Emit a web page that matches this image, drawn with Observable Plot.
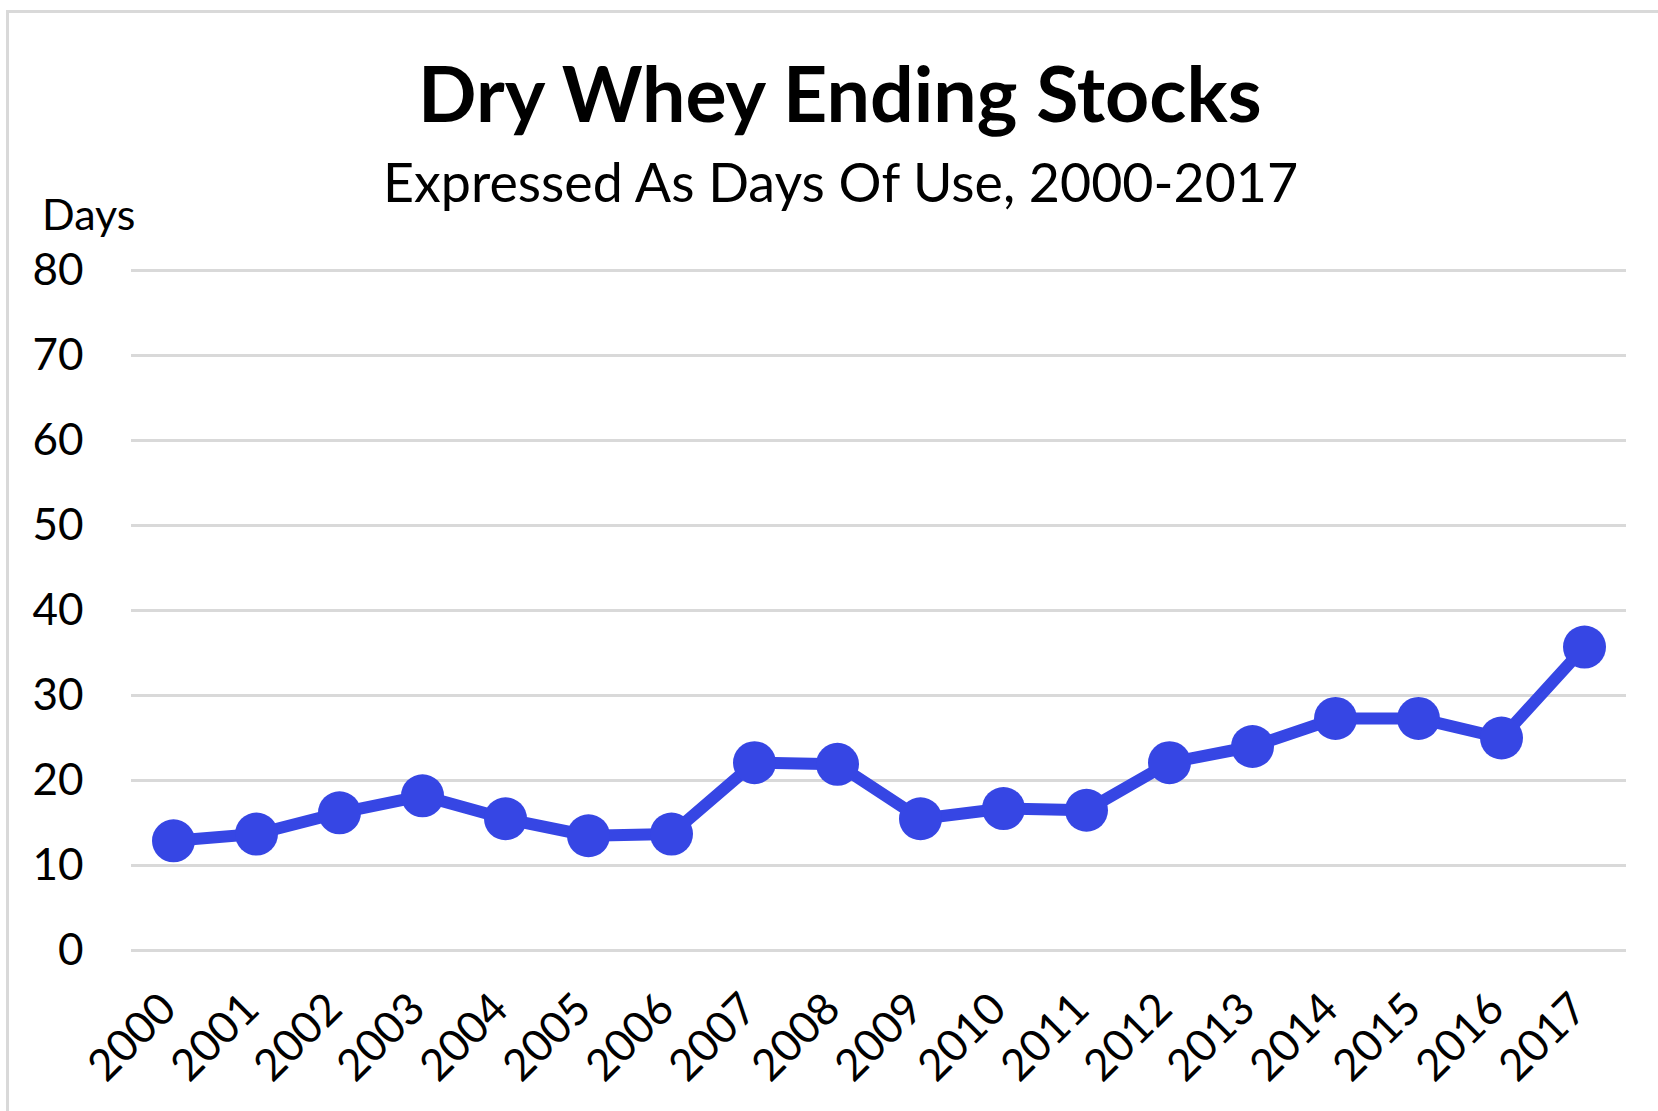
<!DOCTYPE html>
<html><head><meta charset="utf-8">
<script src="https://cdn.jsdelivr.net/npm/d3@7"></script>
<script src="https://cdn.jsdelivr.net/npm/@observablehq/plot@0.6"></script>
<style>
html,body{margin:0;padding:0;background:#fff;}
body{width:1658px;height:1111px;position:relative;overflow:hidden;font-family:Lato,sans-serif;}
#frame{position:absolute;left:6px;top:10px;width:1700px;height:1200px;border-left:3px solid #d9d9d9;border-top:3px solid #d9d9d9;}
#chart{position:absolute;left:0;top:0;}
.t{position:absolute;white-space:nowrap;line-height:1;color:#000;font-family:Lato,sans-serif;}
</style></head><body>
<div id="frame"></div>
<div id="chart"></div>
<div id="title" class="t" style="font-weight:700">Dry Whey Ending Stocks</div>
<div id="subtitle" class="t">Expressed As Days Of Use, 2000-2017</div>
<div id="ylabel" class="t">Days</div>
<script>
const years = ["2000","2001","2002","2003","2004","2005","2006","2007","2008","2009","2010","2011","2012","2013","2014","2015","2016","2017"];
const days = [12.9, 13.7, 16.2, 18.2, 15.5, 13.5, 13.7, 22.1, 21.9, 15.5, 16.7, 16.5, 22.1, 24.0, 27.3, 27.3, 25.0, 35.7];
const yTicks = [0, 10, 20, 30, 40, 50, 60, 70, 80];

const data = years.map((year, i) => ({year, days: days[i]}));
const blue = "#3646e4";

const chart = Plot.plot({
  width: 1658,
  height: 1111,
  marginTop: 270,
  marginBottom: 161,
  marginLeft: 131,
  marginRight: 32,
  style: {fontFamily: "Lato, sans-serif", fontSize: "44px", color: "#000", background: "transparent", overflow: "visible"},
  x: {type: "point", domain: years, padding: 0.5},
  y: {domain: [0, 80]},
  marks: [
    Plot.ruleY(yTicks, {stroke: "#d9d9d9", strokeWidth: 3}),
    Plot.axisY({ticks: yTicks, label: null, tickSize: 0, tickPadding: 48}),
    Plot.axisX({label: null, tickSize: 0, tickPadding: 51, tickRotate: -45, dx: -5}),
    Plot.line(data, {x: "year", y: "days", stroke: blue, strokeWidth: 12}),
    Plot.dot(data, {x: "year", y: "days", r: 21.5, fill: blue})
  ]
});
document.getElementById("chart").appendChild(chart);

const ctx = document.createElement("canvas").getContext("2d");
function place(id, {center, left, baseline, width, size, weight = 400}) {
  const el = document.getElementById(id);
  const text = el.textContent;
  if (width) {
    ctx.font = `${weight} 100px Lato`;
    size = 100 * width / ctx.measureText(text).width;
  }
  ctx.font = `${weight} ${size}px Lato`;
  const m = ctx.measureText(text);
  const fa = m.fontBoundingBoxAscent, fd = m.fontBoundingBoxDescent;
  const top = baseline - ((size - (fa + fd)) / 2 + fa);
  el.style.fontSize = size + "px";
  el.style.top = top + "px";
  if (center != null) el.style.left = (center - m.width / 2) + "px";
  else el.style.left = left + "px";
}
place("title", {center: 842, baseline: 123, width: 848, weight: 700});
place("subtitle", {center: 842, baseline: 203, width: 918});
place("ylabel", {left: 42, baseline: 230, size: 43});
</script>
</body></html>
